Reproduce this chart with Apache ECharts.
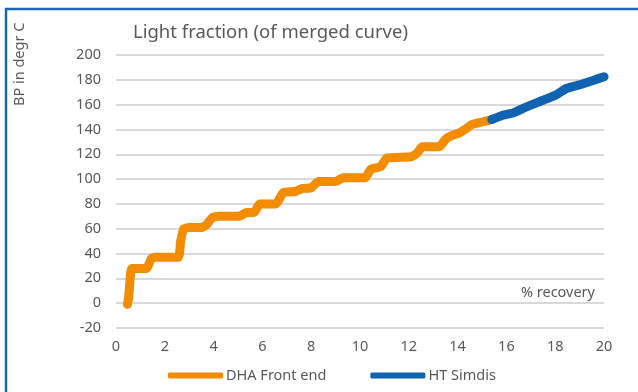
<!DOCTYPE html>
<html>
<head>
<meta charset="utf-8">
<script src="https://cdn.jsdelivr.net/npm/echarts@6/dist/echarts.min.js"></script>
<style>
  html, body { margin: 0; padding: 0; background: #fff; }
  #chart { width: 638px; height: 392px; }
</style>
</head>
<body>
<div id="chart"></div>
<script>
// Boiling point (degC) versus % recovery, front-end part and high-temperature simdis part
const frontEnd = [
  [0.47, -1], [0.52, 5], [0.58, 20], [0.65, 28], [1.25, 28], [1.45, 36], [1.6, 37],
  [2.55, 37], [2.65, 50], [2.78, 60], [3.0, 61], [3.5, 61], [3.7, 63], [3.95, 69],
  [4.2, 70], [5.05, 70], [5.35, 73], [5.65, 73], [5.9, 80], [6.55, 80], [6.85, 89],
  [7.35, 90], [7.65, 92.5], [8.0, 93], [8.3, 98], [9.0, 98], [9.3, 101], [10.2, 101],
  [10.45, 108], [10.85, 110], [11.1, 117], [12.1, 118], [12.35, 121], [12.55, 126],
  [13.25, 126], [13.5, 132], [13.75, 135], [14.05, 137], [14.3, 140], [14.6, 144],
  [15.0, 146], [15.4, 148]
];
const htSimdis = [
  [15.4, 148], [15.85, 151.5], [16.3, 153.5], [16.8, 158], [17.5, 163.5], [18.05, 168],
  [18.45, 173], [19.0, 176], [19.55, 179.5], [20.0, 182.5]
];
const seriesNames = ['DHA Front end', 'HT Simdis'];
const titleText = 'Light fraction (of merged curve)';
const yAxisTitle = 'BP in degr C';
const xAxisTitle = '% recovery';

const FONT = 'Noto Sans';
const GREY = '#595959';

const chart = echarts.init(document.getElementById('chart'), null, { renderer: 'canvas' });
chart.setOption({
  backgroundColor: '#ffffff',
  animation: false,
  textStyle: { fontFamily: FONT, color: GREY },
  title: {
    text: titleText,
    left: 128,
    top: 18,
    textStyle: { fontFamily: FONT, fontSize: 18.5, fontWeight: 'normal', color: GREY }
  },
  graphic: [
    {
      type: 'rect',
      shape: { x: 6, y: 9, width: 700, height: 500 },
      style: { fill: 'none', stroke: '#1b67b5', lineWidth: 2.5 },
      silent: true
    },
    {
      type: 'text',
      x: 12,
      y: 106,
      rotation: Math.PI / 2,
      style: {
        text: yAxisTitle,
        fontFamily: FONT,
        fontSize: 14.5,
        fill: GREY,
        textAlign: 'left',
        textVerticalAlign: 'top'
      }
    }
  ],
  legend: {
    left: 168,
    top: 368,
    padding: 0,
    icon: 'roundRect',
    itemWidth: 55,
    itemHeight: 6,
    itemGap: 44,
    textStyle: { fontFamily: FONT, fontSize: 14.5, color: GREY, padding: [0, 0, 0, -2] },
    data: seriesNames
  },
  grid: { left: 116, right: 34, top: 55, bottom: 64, containLabel: false },
  xAxis: {
    type: 'value',
    min: 0,
    max: 20,
    interval: 2,
    name: xAxisTitle,
    nameLocation: 'end',
    nameGap: -9,
    nameTextStyle: {
      fontFamily: FONT, fontSize: 14.5, color: GREY,
      align: 'right', verticalAlign: 'bottom', padding: [0, 0, 3, 0]
    },
    axisLine: { show: false },
    axisTick: { show: false },
    splitLine: { show: false },
    axisLabel: { fontFamily: FONT, fontSize: 14.5, color: GREY, margin: 11 }
  },
  yAxis: {
    type: 'value',
    min: -20,
    max: 200,
    interval: 20,
    axisLine: { show: false },
    axisTick: { show: false },
    splitLine: { show: true, lineStyle: { color: '#d9d9d9', width: 2 } },
    axisLabel: { fontFamily: FONT, fontSize: 14.5, color: GREY, margin: 15 }
  },
  series: [
    {
      name: seriesNames[0],
      type: 'line',
      data: frontEnd,
      showSymbol: false,
      smooth: 0.15,
      color: '#f28c00',
      lineStyle: { width: 9, cap: 'round', join: 'round' },
      z: 3
    },
    {
      name: seriesNames[1],
      type: 'line',
      data: htSimdis,
      showSymbol: false,
      smooth: 0.15,
      color: '#1063b0',
      lineStyle: { width: 9, cap: 'round', join: 'round' },
      z: 4
    }
  ]
});
</script>
</body>
</html>
